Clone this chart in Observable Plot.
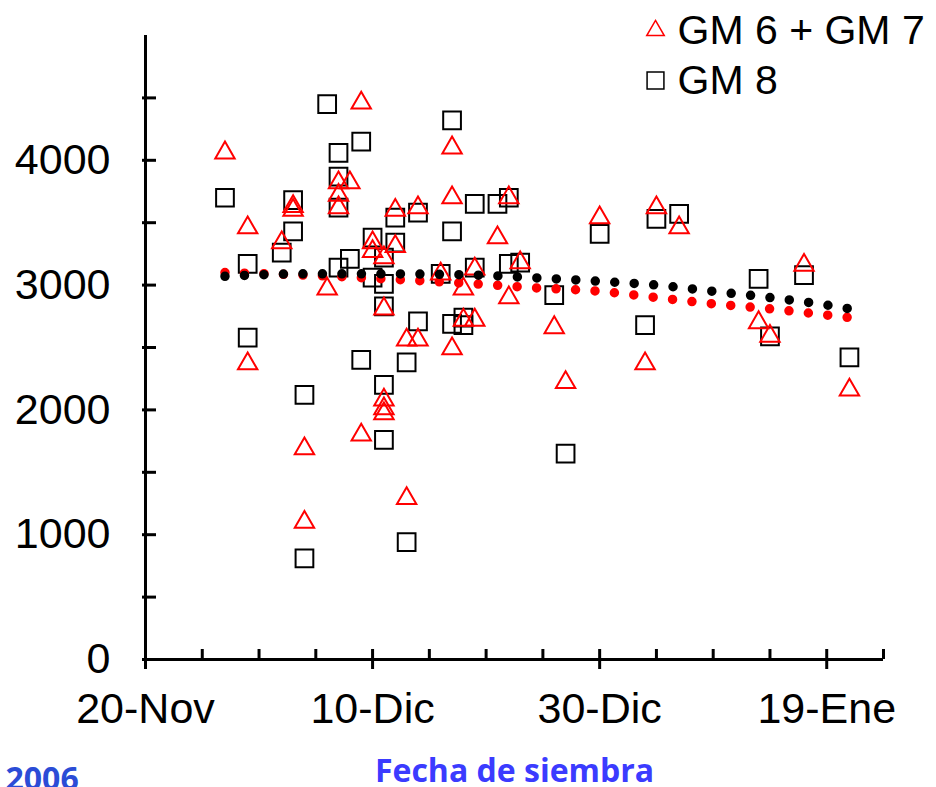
<!DOCTYPE html>
<html>
<head>
<meta charset="utf-8">
<script src="https://cdn.jsdelivr.net/npm/d3@7"></script>
<script src="https://cdn.jsdelivr.net/npm/@observablehq/plot@0.6"></script>
<style>
  html, body { margin: 0; padding: 0; background: #fff; }
  #chart { width: 936px; height: 787px; overflow: hidden; }
</style>
</head>
<body>
<div id="chart"></div>
<script>
// Sowing dates and grain yield (kg/ha) by maturity group, season 2006/07
const gm67Dates = [
  "2006-11-27", "2006-11-29", "2006-11-29", "2006-12-02", "2006-12-03", "2006-12-03",
  "2006-12-04", "2006-12-04", "2006-12-06", "2006-12-07", "2006-12-07", "2006-12-07",
  "2006-12-08", "2006-12-09", "2006-12-09", "2006-12-10", "2006-12-10", "2006-12-11",
  "2006-12-11", "2006-12-11", "2006-12-11", "2006-12-11", "2006-12-12", "2006-12-12",
  "2006-12-13", "2006-12-13", "2006-12-14", "2006-12-14", "2006-12-16", "2006-12-17",
  "2006-12-17", "2006-12-17", "2006-12-18", "2006-12-18", "2006-12-19", "2006-12-19",
  "2006-12-21", "2006-12-22", "2006-12-22", "2006-12-23", "2006-12-26", "2006-12-27",
  "2006-12-30", "2007-01-03", "2007-01-04", "2007-01-06", "2007-01-13", "2007-01-14",
  "2007-01-17", "2007-01-21"
];
const gm67Yield = [
  4060, 3460, 2370, 3340, 3630, 3600,
  1690, 1100, 2970, 3820, 3720, 3620,
  3820, 4460, 1800, 3340, 3270, 3220,
  2810, 2080, 2010, 1970, 3600, 3310,
  2560, 1290, 2560, 3620, 3090, 4100,
  3700, 2490, 2970, 2720, 2720, 3130,
  3380, 3700, 2900, 3180, 2660, 2220,
  3540, 2370, 3620, 3460, 2700, 2590,
  3160, 2160
];

const gm8Dates = [
  "2006-11-27", "2006-11-29", "2006-11-29", "2006-12-02", "2006-12-03", "2006-12-03",
  "2006-12-04", "2006-12-04", "2006-12-06", "2006-12-07", "2006-12-07", "2006-12-07",
  "2006-12-07", "2006-12-08", "2006-12-09", "2006-12-09", "2006-12-10", "2006-12-10",
  "2006-12-11", "2006-12-11", "2006-12-11", "2006-12-11", "2006-12-11", "2006-12-12",
  "2006-12-12", "2006-12-13", "2006-12-13", "2006-12-14", "2006-12-14", "2006-12-16",
  "2006-12-17", "2006-12-17", "2006-12-17", "2006-12-18", "2006-12-18", "2006-12-19",
  "2006-12-19", "2006-12-21", "2006-12-22", "2006-12-22", "2006-12-23", "2006-12-26",
  "2006-12-27", "2006-12-30", "2007-01-03", "2007-01-04", "2007-01-06", "2007-01-13",
  "2007-01-14", "2007-01-17", "2007-01-21"
];
const gm8Yield = [
  3700, 3170, 2580, 3260, 3680, 3430,
  2120, 810, 4450, 4060, 3870, 3620,
  3140, 3210, 4150, 2400, 3380, 3060,
  3220, 3010, 2830, 2200, 1760, 3540,
  3340, 2380, 940, 3580, 2710, 3090,
  4320, 3430, 2690, 2740, 2680, 3650,
  3140, 3650, 3700, 3170, 3180, 2920,
  1650, 3410, 2680, 3530, 3570, 3050,
  2590, 3080, 2420
];

// Fitted trend (yield vs sowing date) for each group
const trendDates = [
  "2006-11-27", "2006-12-04", "2006-12-11", "2006-12-19", "2006-12-24", "2006-12-30",
  "2007-01-04", "2007-01-09", "2007-01-14", "2007-01-19", "2007-01-21"
];
const trendGM67 = [3100, 3080, 3050, 3010, 2980, 2950, 2900, 2850, 2810, 2760, 2740];
const trendGM8  = [3070, 3090, 3090, 3080, 3060, 3030, 3000, 2950, 2900, 2840, 2810];

// Axis ticks
const xStart = "2006-11-20";
const xEnd = "2007-01-24";
const xMajorTicks = ["2006-11-20", "2006-12-10", "2006-12-30", "2007-01-19"];
const xMajorLabels = ["20-Nov", "10-Dic", "30-Dic", "19-Ene"];
const yLabelTicks = [0, 1000, 2000, 3000, 4000];
const yMax = 5000;

const seriesNames = ["GM 6 + GM 7", "GM 8"];

const parse = s => new Date(s + "T00:00:00Z");
const gm67 = gm67Dates.map((d, i) => ({date: parse(d), value: gm67Yield[i]}));
const gm8 = gm8Dates.map((d, i) => ({date: parse(d), value: gm8Yield[i]}));
const trend67 = trendDates.map((d, i) => ({date: parse(d), value: trendGM67[i]}));
const trend8 = trendDates.map((d, i) => ({date: parse(d), value: trendGM8[i]}));

const majors = xMajorTicks.map(parse);
const labelByTime = new Map(majors.map((d, i) => [+d, xMajorLabels[i]]));
const minors = d3.utcDay.range(parse(xStart), d3.utcDay.offset(parse(xEnd), 1), 5);
const yTicks = d3.range(0, yMax, 500);

const font = "'Liberation Sans', Arial, sans-serif";
const dotted = {strokeWidth: 9.5, strokeLinecap: "round", strokeDasharray: "0 19.5", curve: "monotone-x"};
const legendText = {frameAnchor: "top-left", dx: 532, text: d => d, textAnchor: "start",
                    lineAnchor: "middle", fontSize: 41, fill: "#000"};

const chart = Plot.plot({
  width: 936,
  height: 787,
  marginLeft: 145,
  marginRight: 53,
  marginTop: 35,
  marginBottom: 128,
  style: {fontFamily: font, background: "#fff", overflow: "hidden"},
  x: {type: "utc", domain: [parse(xStart), parse(xEnd)], axis: null},
  y: {domain: [0, yMax], axis: null},
  marks: [
    // axis lines
    Plot.ruleX([parse(xStart)], {stroke: "#000", strokeWidth: 3}),
    Plot.ruleY([0], {stroke: "#000", strokeWidth: 3}),
    // y ticks (crossing the axis line)
    Plot.axisY({ticks: yTicks, tickSize: -11, text: null, label: null, strokeWidth: 3}),
    Plot.axisY({ticks: yTicks, tickSize: 3, text: null, label: null, strokeWidth: 3}),
    Plot.axisY({ticks: yLabelTicks, tickSize: 0, tickPadding: 35, tickFormat: d => String(d),
                fontSize: 43, label: null}),
    // x ticks: minor inward, major also outward
    Plot.axisX({ticks: minors, tickSize: -10, text: null, label: null, strokeWidth: 3}),
    Plot.axisX({ticks: majors, tickSize: 10, text: null, label: null, strokeWidth: 3}),
    Plot.axisX({ticks: majors, tickSize: 0, tickPadding: 33, tickFormat: d => labelByTime.get(+d),
                fontSize: 43, label: null}),
    // observations
    Plot.dot(gm8, {x: "date", y: "value", symbol: "square", r: 10, fill: "none",
                   stroke: "#000", strokeWidth: 2}),
    Plot.dot(gm67, {x: "date", y: "value", symbol: "triangle", r: 7.2, fill: "none",
                    stroke: "#ff0000", strokeWidth: 2}),
    // trends
    Plot.line(trend67, {x: "date", y: "value", stroke: "#ff0000", ...dotted}),
    Plot.line(trend8, {x: "date", y: "value", stroke: "#000", ...dotted}),
    // legend
    Plot.dot([seriesNames[0]], {frameAnchor: "top-left", dx: 510, dy: -5, symbol: "triangle", r: 6.5,
                                fill: "none", stroke: "#ff0000", strokeWidth: 1.5}),
    Plot.dot([seriesNames[1]], {frameAnchor: "top-left", dx: 510, dy: 45, symbol: "square", r: 9.5,
                                fill: "none", stroke: "#000", strokeWidth: 1.5}),
    Plot.text([seriesNames[0]], {...legendText, dy: -5}),
    Plot.text([seriesNames[1]], {...legendText, dy: 45}),
    // bottom captions
    Plot.text(["Fecha de siembra"], {frameAnchor: "bottom", dy: 112, text: d => d,
                                     fontFamily: "'Open Sans', sans-serif", fontWeight: "bold",
                                     fontSize: 32, fill: "#3b3bff", lineAnchor: "middle"}),
    Plot.text(["2006"], {frameAnchor: "bottom-left", dx: -140, dy: 120, text: d => d,
                         textAnchor: "start", fontFamily: "'Open Sans', sans-serif", fontWeight: "bold",
                         fontSize: 32, fill: "#2b4cd6", lineAnchor: "middle"})
  ]
});
document.getElementById("chart").append(chart);
</script>
</body>
</html>
